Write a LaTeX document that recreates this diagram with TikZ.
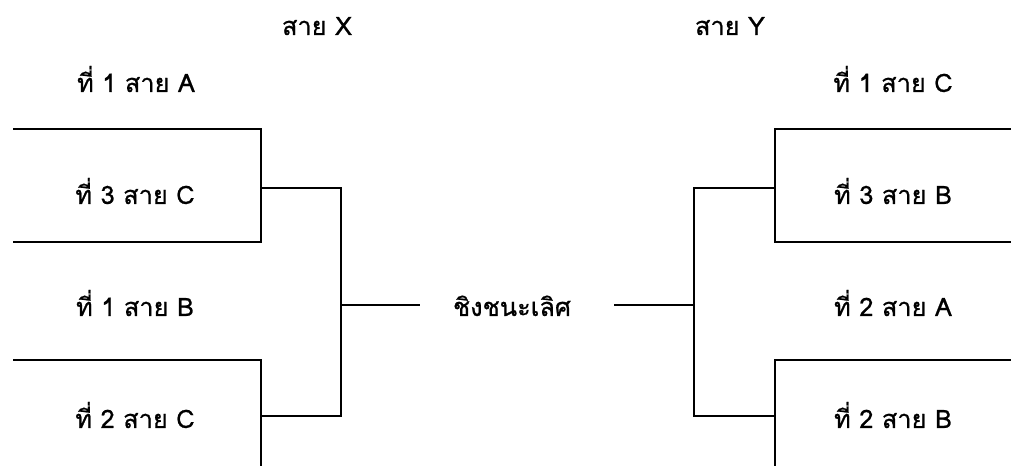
\documentclass[tikz,border=0pt]{standalone}
\usepackage{fontspec}
\setmainfont[Script=Thai, FakeBold=0.8]{Loma}
\usepackage{tikz}

\tikzset{
  lbl/.style={anchor=base, inner sep=0pt, font=\fontsize{19}{22}\selectfont},
  brk/.style={line width=1.1pt, line join=miter}
}

\begin{document}
\begin{tikzpicture}[x=0.75pt, y=-0.75pt]
            \useasboundingbox (0,0) rectangle (1011,466);

            % headings
            \node[lbl] (hx) at (317,35) {สาย X};
            \node[lbl] (hy) at (730,35) {สาย Y};

            % left side
            \node[lbl] (l1) at (136,92) {ที่ 1 สาย A};
            \node[lbl] (l2) at (135,204) {ที่ 3 สาย C};
            \node[lbl] (l3) at (135,316) {ที่ 1 สาย B};
            \node[lbl] (l4) at (135,428) {ที่ 2 สาย C};

            % right side
            \node[lbl] (r1) at (893,92) {ที่ 1 สาย C};
            \node[lbl] (r2) at (893,204) {ที่ 3 สาย B};
            \node[lbl] (r3) at (893,316) {ที่ 2 สาย A};
            \node[lbl] (r4) at (893,428) {ที่ 2 สาย B};

            % final
            \node[lbl] (fin) at (512,316) {ชิงชนะเลิศ};

            % left bracket
            \coordinate (la) at (13,129);
            \coordinate (lb) at (13,242);
            \coordinate (lc) at (13,360);
            \coordinate (ld) at (261,466);
            \coordinate (lm1) at (261,188);
            \coordinate (lm2) at (261,416);
            \coordinate (lf) at (341,305);
            \coordinate (le) at (420,305);

            \draw[brk] (la) -| (261,242) -- (lb);
            \draw[brk] (lc) -| (ld);
            \draw[brk] (lm1) -| (341,416) -- (lm2);
            \draw[brk] (lf) -- (le);

            % right bracket
            \coordinate (ra) at (1011,129);
            \coordinate (rb) at (1011,242);
            \coordinate (rc) at (1011,360);
            \coordinate (rd) at (775,466);
            \coordinate (rm1) at (775,188);
            \coordinate (rm2) at (775,416);
            \coordinate (rf) at (694,305);
            \coordinate (re) at (614,305);

            \draw[brk] (ra) -| (775,242) -- (rb);
            \draw[brk] (rc) -| (rd);
            \draw[brk] (rm1) -| (694,416) -- (rm2);
            \draw[brk] (rf) -- (re);
        \end{tikzpicture}
\end{document}
